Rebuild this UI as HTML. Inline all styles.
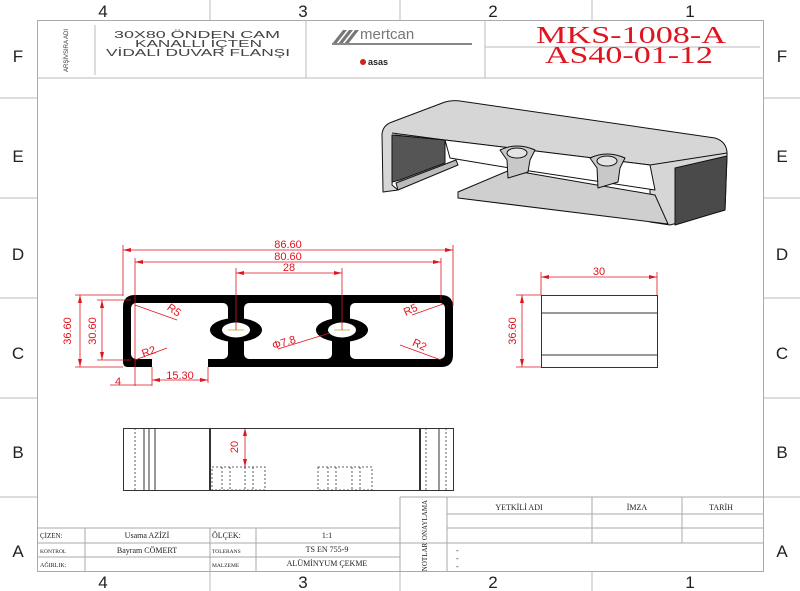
<!DOCTYPE html>
<html><head><meta charset="utf-8"><style>
body{margin:0;background:#fff}
svg{display:block}
.g{font-family:"Liberation Sans","DejaVu Sans",sans-serif}
.s{font-family:"Liberation Serif",serif}
</style></head><body>
<svg width="800" height="591" viewBox="0 0 800 591" xmlns="http://www.w3.org/2000/svg">
<g class="g" font-size="17" fill="#222" text-anchor="middle">
<text x="103" y="17">4</text><text x="303" y="17">3</text><text x="493" y="17">2</text><text x="690" y="17">1</text>
<text x="103" y="588">4</text><text x="303" y="588">3</text><text x="493" y="588">2</text><text x="690" y="588">1</text>
<text x="18" y="62">F</text><text x="782" y="62">F</text>
<text x="18" y="162">E</text><text x="782" y="162">E</text>
<text x="18" y="260">D</text><text x="782" y="260">D</text>
<text x="18" y="359">C</text><text x="782" y="359">C</text>
<text x="18" y="458">B</text><text x="782" y="458">B</text>
<text x="18" y="557">A</text><text x="782" y="557">A</text>
</g>
<g stroke="#bbb" stroke-width="1">
<line x1="210" y1="0" x2="210" y2="20"/><line x1="400" y1="0" x2="400" y2="20"/><line x1="592" y1="0" x2="592" y2="20"/>
<line x1="210" y1="572" x2="210" y2="591"/><line x1="400" y1="572" x2="400" y2="591"/><line x1="592" y1="572" x2="592" y2="591"/>
<line x1="0" y1="98" x2="37" y2="98"/><line x1="0" y1="198" x2="37" y2="198"/><line x1="0" y1="298" x2="37" y2="298"/><line x1="0" y1="398" x2="37" y2="398"/><line x1="0" y1="497" x2="37" y2="497"/>
<line x1="764" y1="98" x2="800" y2="98"/><line x1="764" y1="198" x2="800" y2="198"/><line x1="764" y1="298" x2="800" y2="298"/><line x1="764" y1="398" x2="800" y2="398"/><line x1="764" y1="497" x2="800" y2="497"/>
</g>
<rect x="37.5" y="20.5" width="726" height="551" fill="none" stroke="#aaa"/>
<g stroke="#bbb" fill="none">
<line x1="37" y1="78" x2="764" y2="78"/>
<line x1="95" y1="25" x2="95" y2="75"/>
<line x1="306" y1="20" x2="306" y2="78"/>
<line x1="485" y1="20" x2="485" y2="78"/>
<line x1="485" y1="47" x2="760" y2="47"/>
</g>
<text class="g" font-size="6" fill="#333" transform="translate(68,72) rotate(-90)">ARŞİVSIRA ADI</text>
<g class="g" font-size="10" fill="#444">
<text x="114" y="38" textLength="166" lengthAdjust="spacingAndGlyphs">30X80 ÖNDEN CAM</text>
<text x="135" y="47" textLength="127" lengthAdjust="spacingAndGlyphs">KANALLI İÇTEN</text>
<text x="106" y="56" textLength="184" lengthAdjust="spacingAndGlyphs">VİDALI DUVAR FLANŞI</text>
</g>
<g fill="#777"><polygon points="332,44 343,30 347,30 336,44"/><polygon points="338,44 349,30 353,30 342,44"/><polygon points="344,44 355,30 359,30 348,44"/></g>
<text class="g" x="360" y="39" font-size="15" fill="#777">mertcan</text>
<rect x="332" y="43" width="140" height="2" fill="#888"/>
<circle cx="363" cy="62" r="3" fill="#c22"/><text class="g" x="368" y="65" font-size="9" font-weight="bold" fill="#222">asas</text>
<g class="s" fill="#e0141e" font-size="24">
<text x="536" y="43" textLength="190" lengthAdjust="spacingAndGlyphs">MKS-1008-A</text>
<text x="545" y="63" textLength="168" lengthAdjust="spacingAndGlyphs">AS40-01-12</text>
</g>
<g stroke="#111" stroke-width="1" stroke-linejoin="round">
<path d="M382,134 Q383,125 392,122 L445,102 Q452,100 460,101 L715,138 Q728,142 727,156 L725,210 L670,225 L650,222 L650,165 L395,135 L392,185 L398,190 L383,192 Z" fill="#d6d6d6"/>
<polygon points="392,135 445,140 445,163 400,180 392,182" fill="#555"/>
<polygon points="396,183 456,160 458,165 398,190" fill="#bbb"/>
<polygon points="675,168 727,156 725,210 675,225" fill="#4a4a4a"/>
<path d="M392,133 L445,140 L650,165 L727,153" fill="none"/>
<polygon points="458,192 510,170 655,195 668,224 458,198" fill="#cfcfcf"/>
<polygon points="445,140 650,165 655,190 510,168 450,158" fill="#fff"/>
<path d="M500,150 Q517,142 535,150 L530,160 L528,172 L508,178 L507,160 Z" fill="#c8c8c8"/>
<ellipse cx="517" cy="153" rx="10" ry="5" fill="#e4e4e4"/>
<path d="M590,158 Q607,150 625,158 L620,168 L618,182 L598,188 L597,168 Z" fill="#c8c8c8"/>
<ellipse cx="607" cy="161" rx="10" ry="5" fill="#e4e4e4"/>
</g>
<path d="M135,295 L441,295 Q453,295 453,307 L453,355 Q453,367 441,367 L208,367 L208,359 L152,359 L152,367 L128,367 Q123,367 123,362 L123,307 Q123,295 135,295 Z" fill="#000"/>
<rect x="131" y="303" width="97" height="56" rx="5" fill="#fff"/>
<rect x="244" y="303" width="88" height="56" rx="5" fill="#fff"/>
<rect x="350" y="303" width="95" height="56" rx="5" fill="#fff"/>
<rect x="228" y="300" width="16" height="35" fill="#000"/>
<rect x="332" y="300" width="18" height="35" fill="#000"/>
<rect x="232" y="330" width="8" height="32" fill="#000"/>
<rect x="337" y="330" width="9" height="32" fill="#000"/>
<ellipse cx="236" cy="330" rx="26" ry="12" fill="#000"/>
<ellipse cx="342" cy="330" rx="26" ry="12" fill="#000"/>
<ellipse cx="236" cy="330" rx="14" ry="7.5" fill="#fff"/>
<ellipse cx="342" cy="330" rx="14" ry="7.5" fill="#fff"/>
<g stroke="#b8a000" stroke-width="0.7"><line x1="228" y1="330" x2="244" y2="330"/><line x1="334" y1="330" x2="350" y2="330"/></g>
<g stroke="#e0141e" stroke-width="0.8" fill="none">
<line x1="123" y1="245" x2="123" y2="296"/><line x1="453" y1="245" x2="453" y2="306"/>
<line x1="123" y1="250" x2="453" y2="250"/>
<line x1="135" y1="258" x2="135" y2="386"/><line x1="441" y1="258" x2="441" y2="300"/>
<line x1="135" y1="262" x2="441" y2="262"/>
<line x1="236" y1="268" x2="236" y2="330"/><line x1="342" y1="268" x2="342" y2="330"/>
<line x1="236" y1="273" x2="342" y2="273"/>
<line x1="75" y1="295" x2="123" y2="295"/><line x1="75" y1="367" x2="123" y2="367"/>
<line x1="80" y1="295" x2="80" y2="367"/>
<line x1="97" y1="300" x2="131" y2="300"/><line x1="97" y1="360" x2="131" y2="360"/>
<line x1="102" y1="300" x2="102" y2="360"/>
<line x1="152" y1="367" x2="152" y2="386"/><line x1="208" y1="367" x2="208" y2="383"/>
<line x1="152" y1="380" x2="208" y2="380"/>
<line x1="110" y1="385" x2="152" y2="385"/>
<line x1="135" y1="305" x2="177" y2="320"/>
<line x1="135" y1="360" x2="167" y2="348"/>
<line x1="412" y1="315" x2="443" y2="304"/>
<line x1="400" y1="345" x2="441" y2="360"/>
<line x1="278" y1="349" x2="330" y2="333"/>
<line x1="522" y1="295" x2="522" y2="367"/><line x1="516" y1="295" x2="541" y2="295"/><line x1="516" y1="367" x2="541" y2="367"/>
<line x1="541" y1="272" x2="541" y2="295"/><line x1="657" y1="272" x2="657" y2="295"/>
<line x1="541" y1="277" x2="657" y2="277"/>
<line x1="245" y1="428" x2="245" y2="467"/>
</g>
<g fill="#e0141e">
<polygon points="123,250 131,248 131,252"/><polygon points="453,250 445,248 445,252"/>
<polygon points="135,262 143,260 143,264"/><polygon points="441,262 433,260 433,264"/>
<polygon points="236,273 244,271 244,275"/><polygon points="342,273 334,271 334,275"/>
<polygon points="80,295 78,303 82,303"/><polygon points="80,367 78,359 82,359"/>
<polygon points="102,300 100,308 104,308"/><polygon points="102,360 100,352 104,352"/>
<polygon points="152,380 160,378 160,382"/><polygon points="208,380 200,378 200,382"/>
<polygon points="522,295 520,303 524,303"/><polygon points="522,367 520,359 524,359"/>
<polygon points="541,277 549,275 549,279"/><polygon points="657,277 649,275 649,279"/>
<polygon points="245,428 243,436 247,436"/><polygon points="245,467 243,459 247,459"/>
</g>
<g class="g" fill="#e0141e" font-size="11" text-anchor="middle">
<text x="288" y="248">86.60</text><text x="288" y="260">80.60</text><text x="289" y="271">28</text>
<text x="180" y="379">15.30</text><text x="118" y="385">4</text>
<text x="599" y="275">30</text>
<text transform="translate(71,331) rotate(-90)">36.60</text>
<text transform="translate(96,331) rotate(-90)">30.60</text>
<text transform="translate(516,331) rotate(-90)">36.60</text>
<text transform="translate(238,447) rotate(-90)">20</text>
<text transform="translate(172,313) rotate(35)">R5</text>
<text transform="translate(150,355) rotate(-20)">R2</text>
<text transform="translate(412,313) rotate(-25)">R5</text>
<text transform="translate(418,348) rotate(25)">R2</text>
<text transform="translate(285,346) rotate(-17)">Φ7.8</text>
</g>
<g stroke="#333" stroke-width="1" fill="none">
<rect x="541.5" y="295.5" width="116" height="72"/>
<line x1="541" y1="313" x2="657" y2="313"/><line x1="541" y1="355" x2="657" y2="355"/>
<rect x="123.5" y="428.5" width="330" height="62"/>
<line x1="144" y1="428" x2="144" y2="490"/><line x1="149" y1="428" x2="149" y2="490"/><line x1="155" y1="428" x2="155" y2="490"/>
<line x1="210" y1="428" x2="210" y2="490" stroke-width="2"/><line x1="420" y1="428" x2="420" y2="490" stroke-width="2"/>
<line x1="439" y1="428" x2="439" y2="490"/>
</g>
<g stroke="#333" stroke-width="0.8" stroke-dasharray="2,2" fill="none">
<line x1="135" y1="428" x2="135" y2="490"/><line x1="426" y1="428" x2="426" y2="490"/><line x1="446" y1="428" x2="446" y2="490"/>
<rect x="212" y="467" width="53" height="23"/><rect x="318" y="467" width="54" height="23"/>
<line x1="222" y1="467" x2="222" y2="490"/><line x1="230" y1="467" x2="230" y2="490"/><line x1="245" y1="467" x2="245" y2="490"/><line x1="253" y1="467" x2="253" y2="490"/>
<line x1="328" y1="467" x2="328" y2="490"/><line x1="336" y1="467" x2="336" y2="490"/><line x1="352" y1="467" x2="352" y2="490"/><line x1="360" y1="467" x2="360" y2="490"/>
</g>
<g stroke="#aaa" fill="none">
<line x1="400" y1="497" x2="764" y2="497"/><line x1="400" y1="497" x2="400" y2="572"/>
<line x1="447" y1="497" x2="447" y2="572"/>
<line x1="447" y1="514" x2="764" y2="514"/><line x1="447" y1="528" x2="764" y2="528"/>
<line x1="592" y1="497" x2="592" y2="543"/><line x1="682" y1="497" x2="682" y2="543"/>
<line x1="37" y1="528" x2="400" y2="528"/><line x1="37" y1="543" x2="764" y2="543"/><line x1="37" y1="557" x2="400" y2="557"/>
<line x1="85" y1="528" x2="85" y2="572"/><line x1="210" y1="528" x2="210" y2="572"/><line x1="256" y1="528" x2="256" y2="572"/>
</g>
<g class="s" font-size="7" fill="#222">
<text x="40" y="538">ÇİZEN:</text><text x="40" y="553" font-size="5.5">KONTROL</text><text x="40" y="567" font-size="6">AĞIRLIK:</text>
<text x="212" y="538" font-size="8">ÖLÇEK:</text><text x="212" y="553" font-size="5.5">TOLERANS</text><text x="212" y="567" font-size="5.5">MALZEME</text>
</g>
<g class="s" font-size="8" fill="#222" text-anchor="middle">
<text x="147" y="538">Usama AZİZİ</text><text x="147" y="553">Bayram CÖMERT</text>
<text x="327" y="538">1:1</text><text x="327" y="552">TS EN 755-9</text><text x="327" y="566">ALÜMİNYUM ÇEKME</text>
<text x="519" y="510">YETKİLİ ADI</text><text x="637" y="510">İMZA</text><text x="721" y="510">TARİH</text>
<text transform="translate(427,520) rotate(-90)" font-size="7">ONAYLAMA</text>
<text transform="translate(427,557) rotate(-90)" font-size="7">NOTLAR</text>
</g>
<g class="s" font-size="8" fill="#333"><text x="456" y="553">-</text><text x="456" y="561">-</text><text x="456" y="569">-</text></g>
</svg>
</body></html>
